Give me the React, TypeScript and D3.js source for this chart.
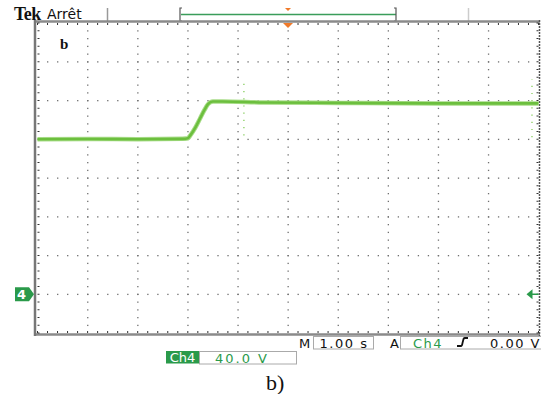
import React from 'react';
import * as d3 from 'd3';

// signal, time in s, level in V (Ch4, 40 V/div, 1 s/div)
const times = [0, 1, 2, 2.9, 3.0, 3.05, 3.15, 3.25, 3.33, 3.4, 3.5, 3.7, 4.5, 6, 8, 10];
const volts = [160, 160.3, 160, 160.4, 161, 164, 172, 182, 190, 196, 199, 199, 198, 197.5, 197, 197];

// short glitches seen on the trace
const glitchT = [4.12, 9.87];
const glitchV0 = [164, 162];
const glitchV1 = [220, 222];

const xDivs = 10;
const yDivs = 8;
const minor = 5;

const W = 541;
const H = 394;

export default function App() {
  const left = 37.5;
  const right = 538.5;
  const top = 23;
  const bottom = 333;

  // ground of Ch4 sits on the 7th grid line, 40 V per div
  const x = d3.scaleLinear().domain([0, xDivs]).range([left, right]);
  const y = d3.scaleLinear().domain([-40, -40 + yDivs * 40]).range([bottom, top]);

  const line = d3.line<number>()
    .x((d, i) => x(times[i]))
    .y(d => y(d))
    .curve(d3.curveMonotoneX);

  const path = line(volts) || '';

  const dotsX = d3.range(0, xDivs * minor + 1).map(i => i / minor);
  const dotsY = d3.range(-40, 281, 40 / minor);
  const gridX = d3.range(1, xDivs);
  const gridY = d3.range(0, 280, 40);

  const dots: JSX.Element[] = [];
  gridX.forEach(gx => {
    dotsY.forEach((v, j) => {
      if (j === 0 || j === dotsY.length - 1) return;
      dots.push(<rect key={`v${gx}-${j}`} x={x(gx) - 0.5} y={y(v) - 0.5} width={1.3} height={1.3} fill="#707070" />);
    });
  });
  gridY.forEach(gv => {
    dotsX.forEach((t, j) => {
      if (j === 0 || j === dotsX.length - 1) return;
      dots.push(<rect key={`h${gv}-${j}`} x={x(t) - 0.5} y={y(gv) - 0.5} width={1.3} height={1.3} fill="#707070" />);
    });
  });

  const ticks: JSX.Element[] = [];
  dotsX.forEach((t, j) => {
    ticks.push(<line key={`tt${j}`} x1={x(t)} x2={x(t)} y1={top} y2={top + 2} stroke="#333" strokeWidth={1} />);
    ticks.push(<line key={`tb${j}`} x1={x(t)} x2={x(t)} y1={bottom} y2={bottom - 2} stroke="#333" strokeWidth={1} />);
  });
  dotsY.forEach((v, j) => {
    ticks.push(<line key={`tl${j}`} x1={left} x2={left + 2} y1={y(v)} y2={y(v)} stroke="#333" strokeWidth={1} />);
    ticks.push(<line key={`tr${j}`} x1={right} x2={right - 2} y1={y(v)} y2={y(v)} stroke="#333" strokeWidth={1} />);
  });

  const green = '#2a9a4a';
  const mono = 'DejaVu Sans, sans-serif';
  const xTrig = x(5);
  const yGnd = y(0);

  return (
    <div style={{ position: 'absolute', left: 0, top: 0 }}>
      <svg width={W} height={H} style={{ display: 'block', background: '#fff' }}>
        {/* top status bar */}
        <text x={14} y={20} fontFamily="Liberation Serif, serif" fontWeight="bold" fontSize={18} fill="#111" letterSpacing={-0.5}>Tek</text>
        <text x={47} y={19} fontFamily={mono} fontSize={14} fill="#111">Arrêt</text>
        <line x1={107.5} x2={107.5} y1={8} y2={22} stroke="#999" strokeWidth={1.5} />
        <path d="M182,8 H180 V21 H182" fill="none" stroke="#555" strokeWidth={1.2} />
        <line x1={181} x2={396} y1={14.5} y2={14.5} stroke="#3a9d5a" strokeWidth={1.5} />
        <path d="M394,8 H396 V21 H394" fill="none" stroke="#555" strokeWidth={1.2} />
        <line x1={468.5} x2={468.5} y1={8} y2={22} stroke="#ccc" strokeWidth={1.5} />
        <path d={`M${xTrig - 3},8 H${xTrig + 3} L${xTrig},11 Z`} fill="#f07a2a" />

        {/* frame */}
        <line x1={34} x2={540} y1={21.5} y2={21.5} stroke="#8a8a8a" strokeWidth={2.5} />
        <line x1={34} x2={540} y1={334.5} y2={334.5} stroke="#8a8a8a" strokeWidth={2.5} />
        <line x1={35} x2={35} y1={20} y2={336} stroke="#777" strokeWidth={2.5} />
        <line x1={539.5} x2={539.5} y1={20} y2={336} stroke="#555" strokeWidth={1.5} strokeDasharray="2,1" />
        {ticks}
        {dots}
        <path d={`M${xTrig - 5},23 H${xTrig + 5} L${xTrig},28 Z`} fill="#f07a2a" />

        {/* label */}
        <text x={60} y={49} fontFamily="Liberation Serif, serif" fontWeight="bold" fontSize={15} fill="#111">b</text>

        {/* glitches */}
        {glitchT.map((t, i) => (
          <line key={`g${i}`} x1={x(t)} x2={x(t)} y1={y(glitchV0[i])} y2={y(glitchV1[i])}
            stroke="#7cc84e" strokeWidth={1.2} strokeDasharray="1.2,6" />
        ))}

        {/* trace */}
        <path d={path} fill="none" stroke="#a8dc88" strokeWidth={4.5} strokeLinejoin="round" />
        <path d={path} fill="none" stroke="#6cbf3e" strokeWidth={2.6} strokeLinejoin="round" />

        {/* ground marker */}
        <path d={`M15,${yGnd - 7} H29 L34,${yGnd} L29,${yGnd + 7} H15 Z`} fill={green} />
        <text x={21.5} y={yGnd + 5} fontFamily={mono} fontWeight="bold" fontSize={13} fill="#fff" textAnchor="middle">4</text>
        {/* trigger level marker */}
        <path d={`M${right - 12},${yGnd} L${right - 6},${yGnd - 5} V${yGnd + 5} Z`} fill={green} />
        <line x1={right - 7} x2={right} y1={yGnd} y2={yGnd} stroke={green} strokeWidth={1.5} />

        {/* bottom readouts */}
        <text x={299} y={348} fontFamily={mono} fontSize={13} fill="#111">M</text>
        <rect x={313.5} y={336.5} width={60} height={12.5} fill="#fff" stroke="#aaa" />
        <text x={344} y={347.5} fontFamily={mono} fontSize={13} fill="#111" textAnchor="middle" letterSpacing={1.5}>1.00 s</text>
        <text x={390} y={348} fontFamily={mono} fontSize={13} fill="#111">A</text>
        <rect x={400.5} y={336.5} width={142} height={12.5} fill="#fff" stroke="#aaa" />
        <text x={413} y={347.5} fontFamily={mono} fontSize={13} fill={green} letterSpacing={1.5}>Ch4</text>
        <path d="M457,346 H461 Q462,346 462.5,343 L463.5,339 Q464,338 465,338 H468" fill="none" stroke="#111" strokeWidth={1.8} />
        <text x={541} y={347.5} fontFamily={mono} fontSize={13} fill="#111" textAnchor="end" letterSpacing={1.5}>0.00 V</text>

        <rect x={166} y={351} width={33} height={12.5} fill={green} />
        <text x={182.5} y={362} fontFamily={mono} fontSize={13} fill="#fff" textAnchor="middle">Ch4</text>
        <rect x={199.5} y={351.5} width={97} height={12.5} fill="#fff" stroke="#aaa" />
        <text x={215} y={362.5} fontFamily={mono} fontSize={13} fill={green} letterSpacing={2}>40.0 V</text>

        <text x={266} y={390} fontFamily="Liberation Serif, serif" fontSize={22} fill="#111">b)</text>
      </svg>
    </div>
  );
}
